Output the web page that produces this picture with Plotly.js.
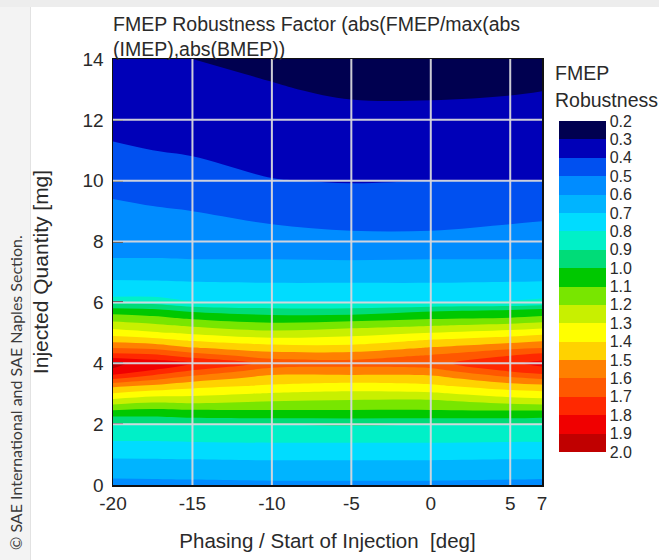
<!DOCTYPE html>
<html><head><meta charset="utf-8">
<script src="https://cdn.plot.ly/plotly-3.0.1.min.js"></script>
<style>html,body{margin:0;padding:0;background:#fff;}</style>
</head><body>
<div id="chart" style="width:659px;height:560px;"></div>
<script>
// Phasing / start of injection [deg] (columns of the grid)
const phasing = [-20, -17.5, -15, -10, -5, 0, 5, 7];
// Injected quantity [mg] (rows of the grid)
const injQty = [0, 0.5, 1, 1.5, 2, 2.25, 2.5, 2.75, 3, 3.25, 3.5, 3.75, 4, 4.25, 4.5, 4.75,
                5, 5.25, 5.5, 5.75, 6, 6.25, 6.5, 7, 7.5, 8, 9, 10, 11, 12, 13, 14];

// FMEP robustness factor, one array per phasing value (bottom to top)
const robustAtM20   = [0.57,0.64,0.72,0.81,0.89,1.00,1.12,1.26,1.39,1.52,1.71,1.89,1.92,1.75,1.60,1.47,1.35,1.25,1.15,1.04,0.87,0.775,0.735,0.66,0.595,0.57,0.52,0.47,0.41,0.375,0.35,0.32];
const robustAtM17_5 = [0.57,0.645,0.72,0.81,0.89,1.00,1.10,1.22,1.345,1.48,1.63,1.79,1.86,1.73,1.58,1.44,1.315,1.22,1.12,1.02,0.87,0.775,0.735,0.655,0.595,0.56,0.51,0.45,0.40,0.37,0.34,0.31];
const robustAtM15   = [0.575,0.645,0.725,0.815,0.90,1.02,1.11,1.23,1.33,1.43,1.55,1.69,1.80,1.66,1.51,1.39,1.28,1.18,1.08,0.97,0.81,0.76,0.725,0.655,0.59,0.55,0.50,0.44,0.39,0.36,0.33,0.30];
const robustAtM10   = [0.58,0.65,0.73,0.82,0.90,1.03,1.11,1.20,1.29,1.385,1.46,1.55,1.67,1.55,1.45,1.34,1.23,1.13,1.04,0.93,0.80,0.76,0.72,0.65,0.59,0.54,0.47,0.403,0.37,0.34,0.305,0.285];
const robustAtM5    = [0.58,0.65,0.73,0.82,0.91,1.03,1.11,1.185,1.27,1.36,1.45,1.555,1.64,1.555,1.44,1.35,1.26,1.16,1.045,0.93,0.80,0.76,0.72,0.65,0.585,0.525,0.455,0.395,0.36,0.32,0.29,0.26];
const robustAt0     = [0.58,0.65,0.73,0.82,0.90,1.03,1.11,1.18,1.28,1.38,1.46,1.56,1.67,1.61,1.51,1.41,1.30,1.19,1.08,0.98,0.80,0.76,0.72,0.65,0.59,0.525,0.455,0.40,0.365,0.318,0.29,0.25];
const robustAt5     = [0.575,0.645,0.725,0.815,0.90,1.03,1.12,1.24,1.35,1.455,1.575,1.71,1.78,1.70,1.58,1.46,1.345,1.225,1.10,1.00,0.81,0.765,0.725,0.655,0.59,0.54,0.47,0.40,0.37,0.328,0.293,0.26];
const robustAt7     = [0.57,0.645,0.725,0.815,0.89,1.02,1.12,1.255,1.365,1.47,1.61,1.76,1.83,1.745,1.60,1.49,1.37,1.25,1.12,1.025,0.83,0.77,0.73,0.655,0.59,0.54,0.48,0.40,0.367,0.333,0.298,0.26];

// Contour levels and colour-bar labels
const levels = [0.2,0.3,0.4,0.5,0.6,0.7,0.8,0.9,1.0,1.1,1.2,1.3,1.4,1.5,1.6,1.7,1.8,1.9,2.0];
const levelLabels = ['0.2','0.3','0.4','0.5','0.6','0.7','0.8','0.9','1.0','1.1','1.2','1.3','1.4','1.5','1.6','1.7','1.8','1.9','2.0'];
// band colours from 0.2-0.3 (top of colour bar) to 1.9-2.0 (bottom)
const bandColors = ['#000050','#0000b8','#0050f0','#008cff','#00b4ff','#00dcff','#00f0c8','#00dc78','#00c800',
                    '#78e600','#c8f000','#ffff00','#ffd200','#ff8000','#ff5800','#ff2800','#f00000','#c00000'];

const xTickVals = [-20, -15, -10, -5, 0, 5, 7];
const xTickText = ['-20', '-15', '-10', '-5', '0', '5', '7'];
const yTickVals = [0, 2, 4, 6, 8, 10, 12, 14];

const titleText = 'FMEP Robustness Factor (abs(FMEP/max(abs<br>(IMEP),abs(BMEP))';
const xTitle = 'Phasing / Start of Injection \u00a0[deg]';
const yTitle = 'Injected Quantity [mg]';
const cbTitle1 = 'FMEP';
const cbTitle2 = 'Robustness';
const credit = '\u00a9 SAE International and SAE Naples Section.';

// ---- build ----
const columns = [robustAtM20, robustAtM17_5, robustAtM15, robustAtM10, robustAtM5, robustAt0, robustAt5, robustAt7];
// negate so that the colour bar runs 0.2 at the top to 2.0 at the bottom
const z = injQty.map((_, i) => columns.map(col => -col[i]));

const nb = bandColors.length;
const colorscale = [];
for (let k = 0; k < nb; k++) {
  const c = bandColors[nb - 1 - k];
  colorscale.push([k / nb, c]);
  colorscale.push([(k + 1) / nb, c]);
}

const lvMin = levels[0], lvMax = levels[levels.length - 1];
const step = 0.1;

const FONT = 'Liberation Sans, Arial, sans-serif';
const TXT = '#2a2a2a';

// plot-area pixel box used to place paper-referenced decorations
const PL = 113, PR = 542, PT = 59, PB = 485;
const px2x = p => (p - PL) / (PR - PL);
const px2y = p => (PB - p) / (PB - PT);

const trace = {
  type: 'contour',
  x: phasing,
  y: injQty,
  z: z,
  zmin: -lvMax,
  zmax: -lvMin + 1e-6,
  autocontour: false,
  contours: {start: -lvMax, end: -lvMin, size: step, coloring: 'fill', showlines: false},
  line: {width: 0, smoothing: 1},
  colorscale: colorscale,
  hoverinfo: 'skip',
  colorbar: {
    x: px2x(559), xanchor: 'left', xpad: 0,
    y: px2y(452), yanchor: 'bottom', ypad: 0,
    len: (452 - 121) / (PB - PT), lenmode: 'fraction',
    thickness: 47, outlinewidth: 0,
    tickvals: levels.map(v => -v),
    ticktext: levelLabels,
    ticks: '',
    tickfont: {family: FONT, size: 16, color: TXT}
  }
};

const shapes = [
  // light grey page frame of the original screenshot
  {type: 'rect', xref: 'paper', yref: 'paper', x0: px2x(0), x1: px2x(30), y0: px2y(560), y1: px2y(0),
   fillcolor: '#f3f3f3', line: {width: 0}, layer: 'below'},
  {type: 'rect', xref: 'paper', yref: 'paper', x0: px2x(0), x1: px2x(659), y0: px2y(7), y1: px2y(0),
   fillcolor: '#ededed', line: {width: 0}, layer: 'below'},
  {type: 'line', xref: 'paper', yref: 'paper', x0: px2x(30.5), x1: px2x(30.5), y0: px2y(560), y1: px2y(7),
   line: {color: '#e2e2e2', width: 1}, layer: 'below'}
];
xTickVals.slice(1, -1).forEach(v => shapes.push({type: 'line', xref: 'x', yref: 'y', x0: v, x1: v,
  y0: yTickVals[0], y1: yTickVals[yTickVals.length - 1], line: {color: 'rgba(215,215,220,0.95)', width: 2}, layer: 'above'}));
yTickVals.slice(1, -1).forEach(v => shapes.push({type: 'line', xref: 'x', yref: 'y', y0: v, y1: v,
  x0: xTickVals[0], x1: xTickVals[xTickVals.length - 1], line: {color: 'rgba(215,215,220,0.95)', width: 2}, layer: 'above'}));

const layout = {
  width: 659, height: 560,
  margin: {l: PL, r: 659 - PR, t: PT, b: 560 - PB, pad: 0},
  paper_bgcolor: '#ffffff', plot_bgcolor: '#ffffff',
  font: {family: FONT, size: 19, color: TXT},
  title: {text: titleText, x: PL / 659, xref: 'container', xanchor: 'left',
          y: 1 - 31 / 560, yref: 'container', yanchor: 'top',
          font: {family: FONT, size: 19.5, color: TXT}},
  xaxis: {range: [xTickVals[0], xTickVals[xTickVals.length - 1]], tickmode: 'array', tickvals: xTickVals, ticktext: xTickText,
          showgrid: false, zeroline: false, showline: true, mirror: true, linecolor: '#111', linewidth: 1.5,
          ticks: '', ticklabelstandoff: 1, tickfont: {family: FONT, size: 19, color: TXT},
          layer: 'above traces',
          title: {text: xTitle, standoff: 20, font: {family: FONT, size: 20.5, color: TXT}}},
  yaxis: {range: [yTickVals[0], yTickVals[yTickVals.length - 1]], tickmode: 'array', tickvals: yTickVals,
          showgrid: false, zeroline: false, showline: true, mirror: true, linecolor: '#111', linewidth: 1.5,
          ticks: 'inside', ticklen: 10, tickwidth: 2, tickcolor: '#000', ticklabelstandoff: 4,
          tickfont: {family: FONT, size: 19, color: TXT}, layer: 'above traces',
          title: {text: yTitle, standoff: 28, font: {family: FONT, size: 21, color: TXT}}},
  shapes: shapes,
  annotations: [
    {text: cbTitle1, xref: 'paper', yref: 'paper', x: px2x(553), y: px2y(73), xanchor: 'left', yanchor: 'middle',
     showarrow: false, font: {family: FONT, size: 19.5, color: TXT}},
    {text: cbTitle2, xref: 'paper', yref: 'paper', x: px2x(553), y: px2y(100), xanchor: 'left', yanchor: 'middle',
     showarrow: false, font: {family: FONT, size: 19.5, color: TXT}},
    {text: credit, xref: 'paper', yref: 'paper', x: px2x(15), y: px2y(393), xanchor: 'center', yanchor: 'middle',
     textangle: -90, showarrow: false, font: {family: 'Lato, Open Sans, sans-serif', size: 16, color: '#3a3a3a'}}
  ],
  showlegend: false
};

Plotly.newPlot('chart', [trace], layout, {displayModeBar: false, staticPlot: true});
</script>
</body></html>
